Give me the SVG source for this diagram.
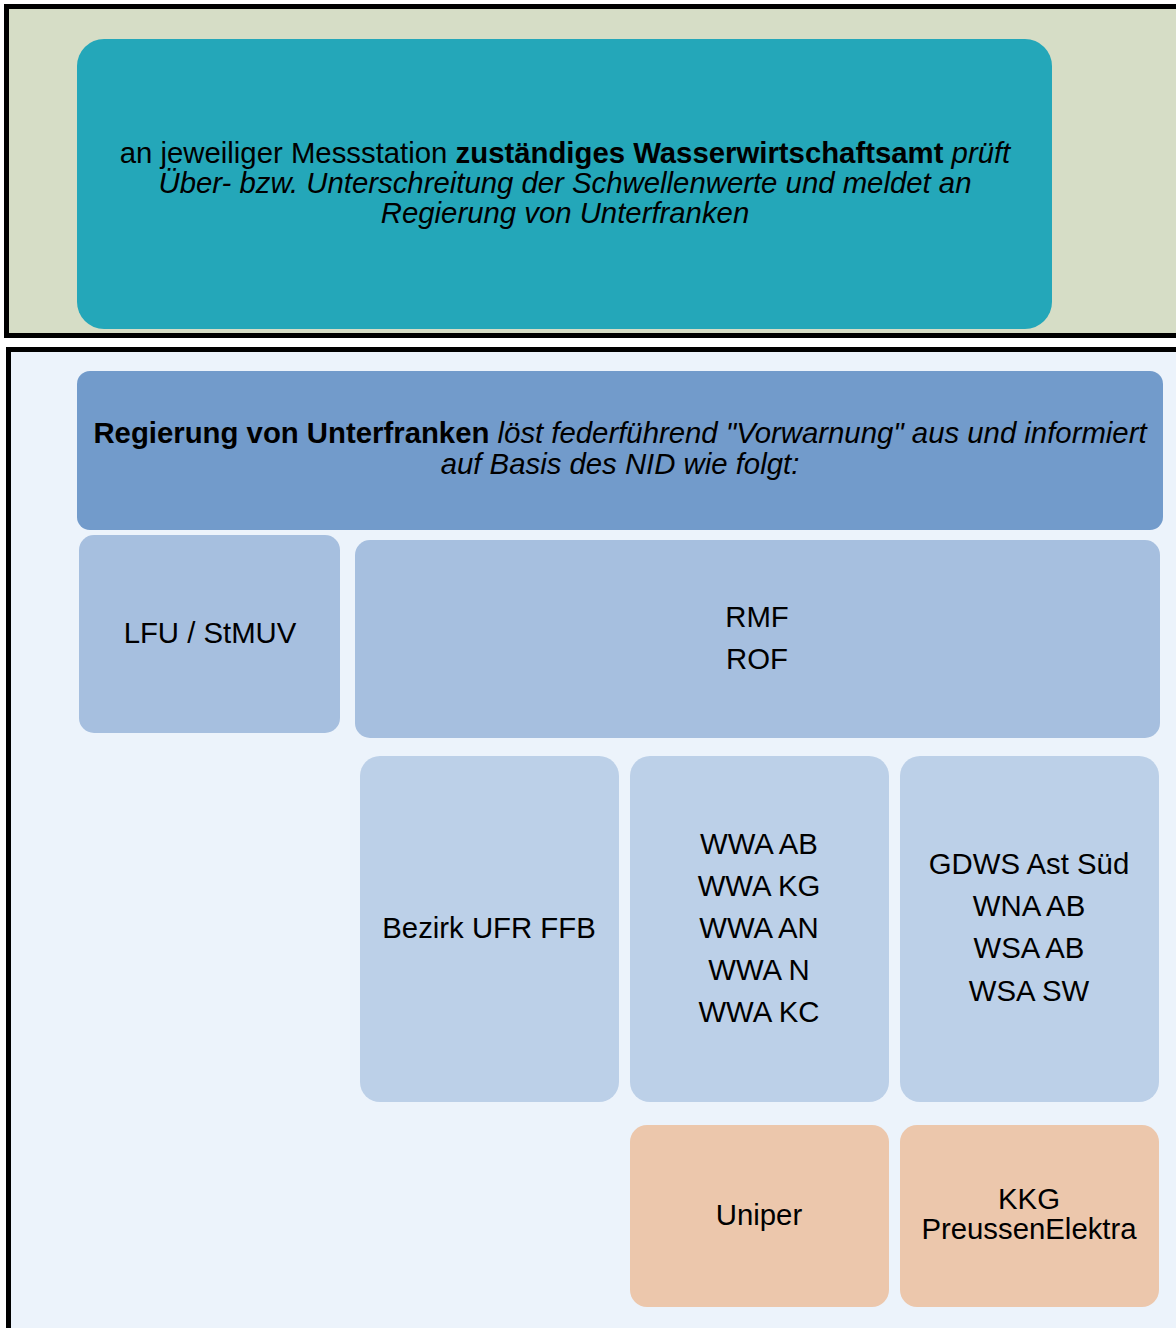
<svg xmlns="http://www.w3.org/2000/svg" width="1176" height="1328" viewBox="0 0 1176 1328">
<style>
text{font-family:"Liberation Sans",Arial,sans-serif;font-size:29.33px;fill:#000;text-anchor:middle}
.b{font-weight:bold}
.i{font-style:italic}
.frame{stroke:#000;stroke-width:5}
.n1{fill:#a6bfdf}
.n2{fill:#bcd0e8}
.n3{fill:#ecc7ac}
</style>
<rect width="1176" height="1328" fill="#fff"/>
<g id="frame-top">
<rect class="frame" x="6.5" y="6.5" width="1200" height="329" fill="#d6ddc6"/>
</g>
<g id="frame-bottom">
<rect class="frame" x="8.5" y="349.5" width="1200" height="1000" fill="#ecf3fb"/>
</g>
<g id="wwa">
<rect x="77" y="39" width="975" height="290" rx="27" fill="#24a7b9"/>
<text x="565" y="163">an jeweiliger Messstation <tspan class="b">zuständiges Wasserwirtschaftsamt</tspan> <tspan class="i">prüft</tspan></text>
<text class="i" x="565" y="193">Über- bzw. Unterschreitung der Schwellenwerte und meldet an</text>
<text class="i" x="565" y="223">Regierung von Unterfranken</text>
</g>
<g id="regierung">
<rect x="77" y="371" width="1086" height="159" rx="13" fill="#729bcb"/>
<text x="620" y="443"><tspan class="b">Regierung von Unterfranken</tspan> <tspan class="i">löst federführend "Vorwarnung" aus und informiert</tspan></text>
<text class="i" x="620" y="474">auf Basis des NID wie folgt:</text>
</g>
<g id="lfu">
<rect class="n1" x="79" y="535" width="261" height="198" rx="15"/>
<text x="210" y="643">LFU / StMUV</text>
</g>
<g id="rmf">
<rect class="n1" x="355" y="540" width="805" height="198" rx="15"/>
<text x="757" y="627">RMF</text>
<text x="757" y="669">ROF</text>
</g>
<g id="bezirk">
<rect class="n2" x="360" y="756" width="259" height="346" rx="20"/>
<text x="489" y="938">Bezirk UFR FFB</text>
</g>
<g id="wwas">
<rect class="n2" x="630" y="756" width="259" height="346" rx="20"/>
<text x="759" y="854">WWA AB</text>
<text x="759" y="896">WWA KG</text>
<text x="759" y="938">WWA AN</text>
<text x="759" y="980">WWA N</text>
<text x="759" y="1022">WWA KC</text>
</g>
<g id="gdws">
<rect class="n2" x="900" y="756" width="259" height="346" rx="20"/>
<text x="1029" y="874">GDWS Ast Süd</text>
<text x="1029" y="916">WNA AB</text>
<text x="1029" y="958">WSA AB</text>
<text x="1029" y="1001">WSA SW</text>
</g>
<g id="uniper">
<rect class="n3" x="630" y="1125" width="259" height="182" rx="17"/>
<text x="759" y="1225">Uniper</text>
</g>
<g id="kkg">
<rect class="n3" x="900" y="1125" width="259" height="182" rx="17"/>
<text x="1029" y="1209">KKG</text>
<text x="1029" y="1239">PreussenElektra</text>
</g>
<g id="connectors"></g>
</svg>
